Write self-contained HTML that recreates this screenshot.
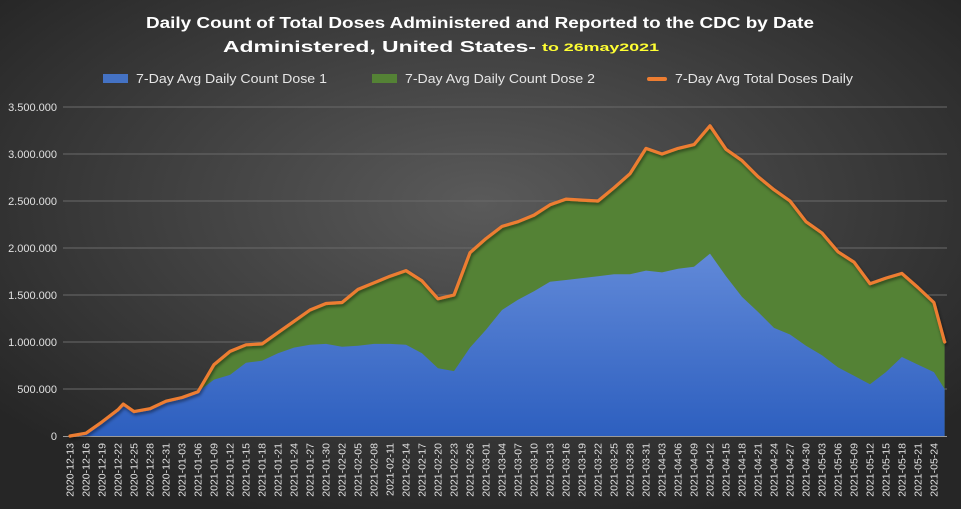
<!DOCTYPE html>
<html><head><meta charset="utf-8"><style>
html,body{margin:0;padding:0;background:#2b2b2b;}
svg{display:block;font-family:"Liberation Sans",sans-serif;}
</style></head><body>
<svg id="chart" width="961" height="509" viewBox="0 0 961 509" xmlns="http://www.w3.org/2000/svg">
<defs>
<radialGradient id="bg" cx="50%" cy="40%" r="65%">
<stop offset="0" stop-color="#5a5a5a"/><stop offset="1" stop-color="#262626"/>
</radialGradient>
<linearGradient id="blue" x1="0" y1="0" x2="0" y2="1">
<stop offset="0" stop-color="#6189d8"/><stop offset="1" stop-color="#2d5fbf"/>
</linearGradient>
<filter id="sh" x="-5%" y="-5%" width="110%" height="110%"><feDropShadow dx="1" dy="2" stdDeviation="1.5" flood-color="#000" flood-opacity="0.5"/></filter>
</defs>
<rect width="961" height="509" fill="url(#bg)"/>
<text x="480" y="28" text-anchor="middle" fill="#fff" font-weight="bold" font-size="16" textLength="668" lengthAdjust="spacingAndGlyphs">Daily Count of Total Doses Administered and Reported to the CDC by Date</text>
<text x="223" y="52" fill="#fff" font-weight="bold" font-size="16" textLength="313" lengthAdjust="spacingAndGlyphs">Administered, United States-</text>
<text x="542" y="51" fill="#ffff33" font-weight="bold" font-size="11" textLength="117" lengthAdjust="spacingAndGlyphs">to 26may2021</text>
<g>
<rect x="103" y="74" width="25" height="9" fill="#4472c4"/>
<text x="136" y="83" fill="#e6e6e6" font-size="13" textLength="191" lengthAdjust="spacingAndGlyphs">7-Day Avg Daily Count Dose 1</text>
<rect x="372" y="74" width="25" height="9" fill="#548235"/>
<text x="405" y="83" fill="#e6e6e6" font-size="13" textLength="190" lengthAdjust="spacingAndGlyphs">7-Day Avg Daily Count Dose 2</text>
<line x1="448" y1="79" x2="667" y2="79" stroke="none"/>
<rect x="647" y="77" width="20" height="4" rx="2" fill="#ed7d31"/>
<text x="675" y="83" fill="#e6e6e6" font-size="13" textLength="178" lengthAdjust="spacingAndGlyphs">7-Day Avg Total Doses Daily</text>
</g>
<g id="grid"></g>
<g id="areas"></g>
<g id="yticks"></g>
<g id="xticks"></g>
</svg>
<script>
const dates = ["2020-12-13","2020-12-16","2020-12-19","2020-12-22","2020-12-23","2020-12-25","2020-12-28","2020-12-31","2021-01-03","2021-01-06","2021-01-09","2021-01-12","2021-01-15","2021-01-18","2021-01-21","2021-01-24","2021-01-27","2021-01-30","2021-02-02","2021-02-05","2021-02-08","2021-02-11","2021-02-14","2021-02-17","2021-02-20","2021-02-23","2021-02-26","2021-03-01","2021-03-04","2021-03-07","2021-03-10","2021-03-13","2021-03-16","2021-03-19","2021-03-22","2021-03-25","2021-03-28","2021-03-31","2021-04-03","2021-04-06","2021-04-09","2021-04-12","2021-04-15","2021-04-18","2021-04-21","2021-04-24","2021-04-27","2021-04-30","2021-05-03","2021-05-06","2021-05-09","2021-05-12","2021-05-15","2021-05-18","2021-05-21","2021-05-24","2021-05-26"];
const dose1 = [0,30,150,260,330,260,290,370,410,470,600,650,780,800,880,940,970,980,950,960,980,980,970,880,720,690,940,1130,1340,1450,1540,1640,1660,1680,1700,1720,1720,1760,1740,1780,1800,1940,1700,1480,1320,1150,1080,960,860,730,640,550,680,840,760,680,500];
const totalDoses = [0,30,150,280,340,260,290,370,410,470,760,900,970,980,1100,1220,1340,1410,1420,1560,1630,1700,1760,1650,1460,1500,1950,2100,2230,2280,2350,2460,2520,2510,2500,2640,2790,3060,3000,3060,3100,3300,3050,2930,2760,2620,2500,2280,2160,1960,1850,1620,1680,1730,1580,1420,1000];
const yTicks = [0,500,1000,1500,2000,2500,3000,3500];
const yTickLabels = ["0","500.000","1.000.000","1.500.000","2.000.000","2.500.000","3.000.000","3.500.000"];
const xTickStart = "2020-12-13", xTickEnd = "2021-05-24", xTickStep = 3;

const NS = "http://www.w3.org/2000/svg";
const X0 = 70, PXDAY = 5.333, Y0 = 436, PXK = 47/500;
const day0 = Date.parse(xTickStart);
function dayOf(s){ return Math.round((Date.parse(s)-day0)/86400000); }
function xs(s){ return X0 + dayOf(s)*PXDAY; }
function ys(v){ return Y0 - v*PXK; }
function mk(tag, attrs, parent){ const e=document.createElementNS(NS,tag); for(const k in attrs) e.setAttribute(k,attrs[k]); parent.appendChild(e); return e; }

const grid = document.getElementById('grid'), yg = document.getElementById('yticks'), xg = document.getElementById('xticks'), ag = document.getElementById('areas');
yTicks.forEach((v,i)=>{
  if(i>0){
    const l = mk('line',{x1:63,x2:947,y1:ys(v),y2:ys(v),stroke:'#6a6a6a','stroke-width':1},grid);
    
    
  }
  const t = mk('text',{x:57,y:ys(v)+4,'text-anchor':'end',fill:'#e0e0e0','font-size':11},yg);
  t.textContent = yTickLabels[i];
  
  
});

function pts(arr){ return dates.map((d,i)=>[xs(d), ys(arr[i])]); }
const pT = pts(totalDoses), p1 = pts(dose1);
const lastX = xs(dates[dates.length-1]);
const line = a => a.map((p,i)=>(i?'L':'M')+p[0].toFixed(1)+','+p[1].toFixed(1)).join(' ');
const green = mk('path',{d: line(pT)+` L${lastX},${Y0} L${X0},${Y0} Z`, fill:'#548235'},ag);


const blue = mk('path',{d: line(p1)+` L${lastX},${Y0} L${X0},${Y0} Z`, fill:'url(#blue)'},ag);


const ax = mk('line',{x1:63,x2:947,y1:Y0+0.5,y2:Y0+0.5,stroke:'#9a9a9a','stroke-width':1},ag);


const tl = mk('path',{d: line(pT), fill:'none', stroke:'#ed7d31','stroke-width':3.2,'stroke-linejoin':'round','stroke-linecap':'round',filter:'url(#sh)'},ag);



const nT = dayOf(xTickEnd);
for(let d=0; d<=nT; d+=xTickStep){
  const dt = new Date(day0 + d*86400000).toISOString().slice(0,10);
  const x = X0 + d*PXDAY;
  const t = mk('text',{x:0,y:0,transform:`translate(${(x+3.5).toFixed(1)},443) rotate(-90)`,'text-anchor':'end',fill:'#e0e0e0','font-size':10.5},xg);
  t.textContent = dt;
  
  
}
</script>
</body></html>
